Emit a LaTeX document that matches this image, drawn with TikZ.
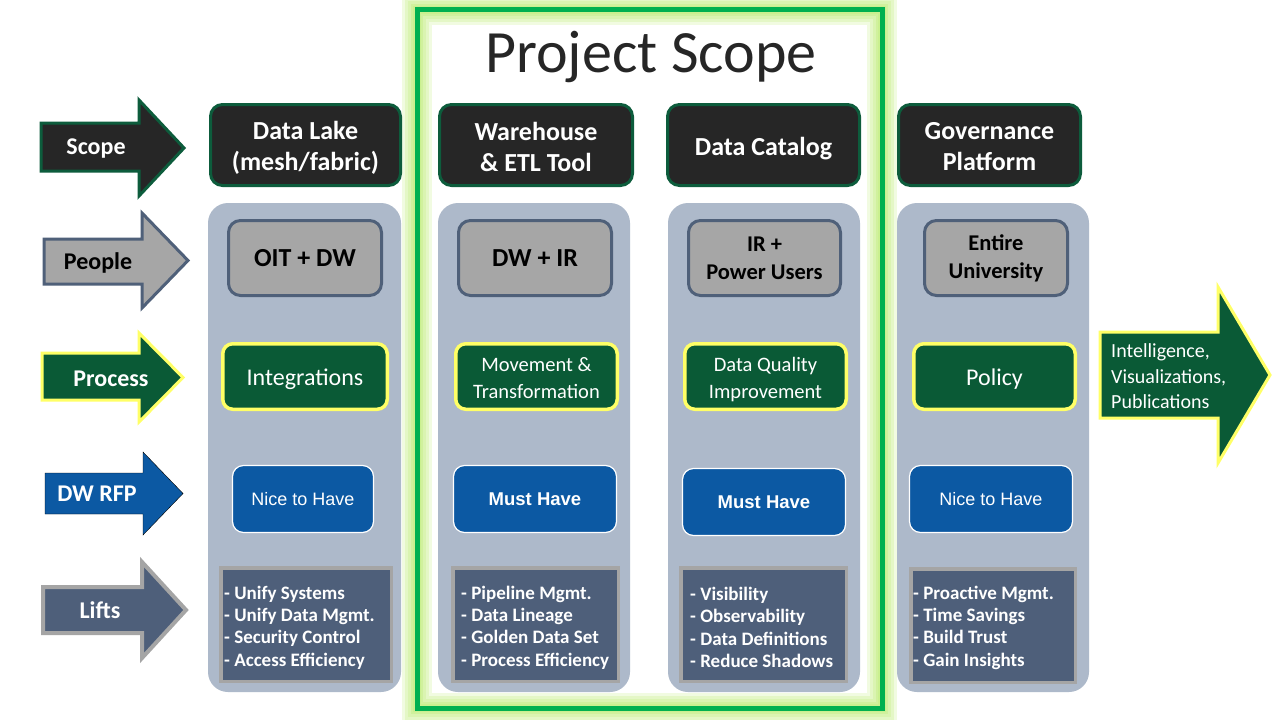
\documentclass[tikz,border=0pt]{standalone}
\usepackage{fontspec}
\setmainfont{Carlito}
\newfontfamily\arialf{Liberation Sans}
\definecolor{hdrfill}{HTML}{262626}
\definecolor{hdrgreen}{HTML}{0D5C3C}
\definecolor{panelc}{HTML}{ADB9CA}
\definecolor{pplfill}{HTML}{A6A6A6}
\definecolor{pplborder}{HTML}{4F6079}
\definecolor{procgreen}{HTML}{0A5A36}
\definecolor{yel}{HTML}{FFFF66}
\definecolor{rfpblue}{HTML}{0C59A3}
\definecolor{liftfill}{HTML}{4E5F7A}
\definecolor{liftborder}{HTML}{A5A5A5}
\definecolor{framegreen}{HTML}{00B050}
\definecolor{glowc}{HTML}{C8F08A}
\definecolor{titlec}{HTML}{262626}
\newcommand\blockarrow[8]{%
  \draw[#1] (#2,#3) -- (#5,#3) -- (#5,#6) -- (#8,{(#6+#7)/2}) -- (#5,#7) -- (#5,#4) -- (#2,#4) -- cycle;}
\begin{document}
\begin{tikzpicture}[x=1pt,y=-1pt,
  hdr/.style={draw=hdrgreen, line width=3pt, fill=hdrfill, rounded corners=12pt,
    inner sep=0pt, minimum height=81pt},
  hdrtext/.style={text=white, font=\fontsize{26}{31}\selectfont\bfseries, align=center, inner sep=0pt},
  panel/.style={fill=panelc, rounded corners=20pt, inner sep=0pt, minimum height=489pt},
  ppl/.style={draw=pplborder, line width=3pt, fill=pplfill, rounded corners=12pt, align=center,
    inner sep=0pt, minimum height=75pt, text=black},
  pplA/.style={ppl, font=\fontsize{26}{31}\selectfont\bfseries},
  pplB/.style={ppl, font=\fontsize{22.5}{28}\selectfont\bfseries},
  proc/.style={draw=yel, line width=3.5pt, fill=procgreen, rounded corners=10pt,
    inner sep=0pt, minimum height=65.5pt},
  proctext/.style={text=white, font=\fontsize{24}{29}\selectfont, inner sep=0pt},
  proctextB/.style={text=white, font=\fontsize{20.5}{26.5}\selectfont, align=center, inner sep=0pt},
  rfp/.style={draw=white, line width=1.2pt, fill=rfpblue, rounded corners=11pt, text=white,
    inner sep=0pt, minimum height=67pt},
  nice/.style={rfp, font=\arialf\fontsize{18}{22}\selectfont},
  must/.style={rfp, font=\arialf\bfseries\fontsize{18.5}{22}\selectfont},
  lift/.style={draw=liftborder, line width=3.5pt, fill=liftfill, inner sep=0pt, minimum height=113.5pt},
  lifttext/.style={text=white, font=\bfseries\fontsize{19}{22.3}\selectfont, align=left,
    anchor=west, inner sep=0pt},
  arrowlabel/.style={font=\fontsize{24}{29}\selectfont\bfseries, inner sep=0pt},
  line join=miter
]
\useasboundingbox (0,0) rectangle (1280,720);
\fill[white] (0,0) rectangle (1280,720);

% glow and frame
\foreach \w/\o in {30/0.25,24/0.3,18/0.35,12/0.5,8/0.7}
  \draw[glowc, line width=\w pt, opacity=\o] (417,9.5) rectangle (882,708);
\draw[framegreen, line width=5pt] (417,9.5) rectangle (882,708);
\node[anchor=base, text=titlec, font=\fontsize{60}{70}\selectfont, inner sep=0pt] (title) at (651,72) {Project Scope};

% left arrows
\blockarrow{draw=hdrgreen, line width=3pt, fill=hdrfill}{41}{123}{171}{139}{100}{196}{184}
\node[arrowlabel, text=white] (lscope) at (96,149) {Scope};
\blockarrow{draw=pplborder, line width=3pt, fill=pplfill}{44}{239}{284}{142}{213}{308}{188}
\node[arrowlabel, text=black] (lpeople) at (98,263) {People};
\blockarrow{draw=yel, line width=3pt, fill=procgreen}{42}{353}{400}{139}{333}{422}{183}
\node[arrowlabel, text=white] (lprocess) at (111,379) {Process};
\blockarrow{fill=rfpblue}{45}{473}{514}{143}{452}{535}{183}
\node[arrowlabel, text=white] (lrfp) at (97,494) {DW RFP};
\blockarrow{draw=liftborder, line width=4pt, fill=liftfill}{43}{587}{633}{142}{562}{658}{186}
\node[arrowlabel, text=white] (llifts) at (100,610) {Lifts};

% right arrow
\blockarrow{draw=yel, line width=3pt, fill=procgreen}{1100}{332}{418}{1218}{287}{463}{1270}
\node[text=white, font=\fontsize{20}{25.5}\selectfont, align=left, anchor=west, inner sep=0pt]
  (rout) at (1111,376.5) {Intelligence,\\Visualizations,\\Publications};

% panels
\node[panel, minimum width=193pt] (p1) at (304.5,447.5) {};
\node[panel, minimum width=192pt] (p2) at (534,447.5) {};
\node[panel, minimum width=192pt] (p3) at (764,447.5) {};
\node[panel, minimum width=192pt] (p4) at (993,447.5) {};

% headers
\node[hdr, minimum width=190pt] (h1) at (305.5,145) {};
\node[hdr, minimum width=193pt] (h2) at (536,145) {};
\node[hdr, minimum width=192pt] (h3) at (763.5,145) {};
\node[hdr, minimum width=182pt] (h4) at (989.5,145) {};
\node[hdrtext] (h1t) at ([yshift=-2.5pt]h1.center) {Data Lake\\(mesh/fabric)};
\node[hdrtext] (h2t) at ([yshift=-1.5pt]h2.center) {Warehouse\\\& ETL Tool};
\node[hdrtext] (h3t) at ([yshift=-4pt]h3.center) {Data Catalog};
\node[hdrtext] (h4t) at ([yshift=-2pt]h4.center) {Governance\\Platform};

% people
\node[pplA, minimum width=153pt] (pe1) at (305,258) {OIT + DW};
\node[pplA, minimum width=153pt] (pe2) at (535,258) {DW + IR};
\node[pplB, minimum width=152pt] (pe3) at (764.5,258) {IR +\\Power Users};
\node[pplB, minimum width=143pt] (pe4) at (996,258) {Entire\\University};

% process
\node[proc, minimum width=164.5pt] (pr1) at (305,376.5) {};
\node[proctext] (pr1t) at ([yshift=-2.5pt]pr1.center) {Integrations};
\node[proc, minimum width=161.5pt] (pr2) at (536.5,376.5) {};
\node[proctextB] (pr2t) at ([yshift=-1.5pt]pr2.center) {Movement \&\\Transformation};
\node[proc, minimum width=161.5pt] (pr3) at (765.5,376.5) {};
\node[proctextB] (pr3t) at ([yshift=-3pt]pr3.center) {Data Quality\\Improvement};
\node[proc, minimum width=161.5pt] (pr4) at (994.5,376.5) {};
\node[proctext] (pr4t) at ([yshift=-2.5pt]pr4.center) {Policy};

% RFP
\node[nice, minimum width=141pt] (r1) at (303,499) {Nice to Have};
\node[must, minimum width=163pt] (r2) at (535,499) {Must Have};
\node[must, minimum width=163pt] (r3) at (764,502) {Must Have};
\node[nice, minimum width=163pt] (r4) at (991,499) {Nice to Have};

% lifts
\node[lift, minimum width=170.5pt] (l1) at (306,624.5) {};
\node[lift, minimum width=165.5pt] (l2) at (535.5,624.5) {};
\node[lift, minimum width=165.5pt] (l3) at (763.5,624.5) {};
\node[lift, minimum width=164.5pt] (l4) at (993,625.5) {};
\node[lifttext] (lt1) at (224,627.5) {- Unify Systems\\- Unify Data Mgmt.\\- Security Control\\- Access Efficiency};
\node[lifttext] (lt2) at (461,627.5) {- Pipeline Mgmt.\\- Data Lineage\\- Golden Data Set\\- Process Efficiency};
\node[lifttext] (lt3) at (690,627.5) {- Visibility\\- Observability\\- Data Definitions\\- Reduce Shadows};
\node[lifttext] (lt4) at (913,627.5) {- Proactive Mgmt.\\- Time Savings\\- Build Trust\\- Gain Insights};
\end{tikzpicture}
\end{document}
